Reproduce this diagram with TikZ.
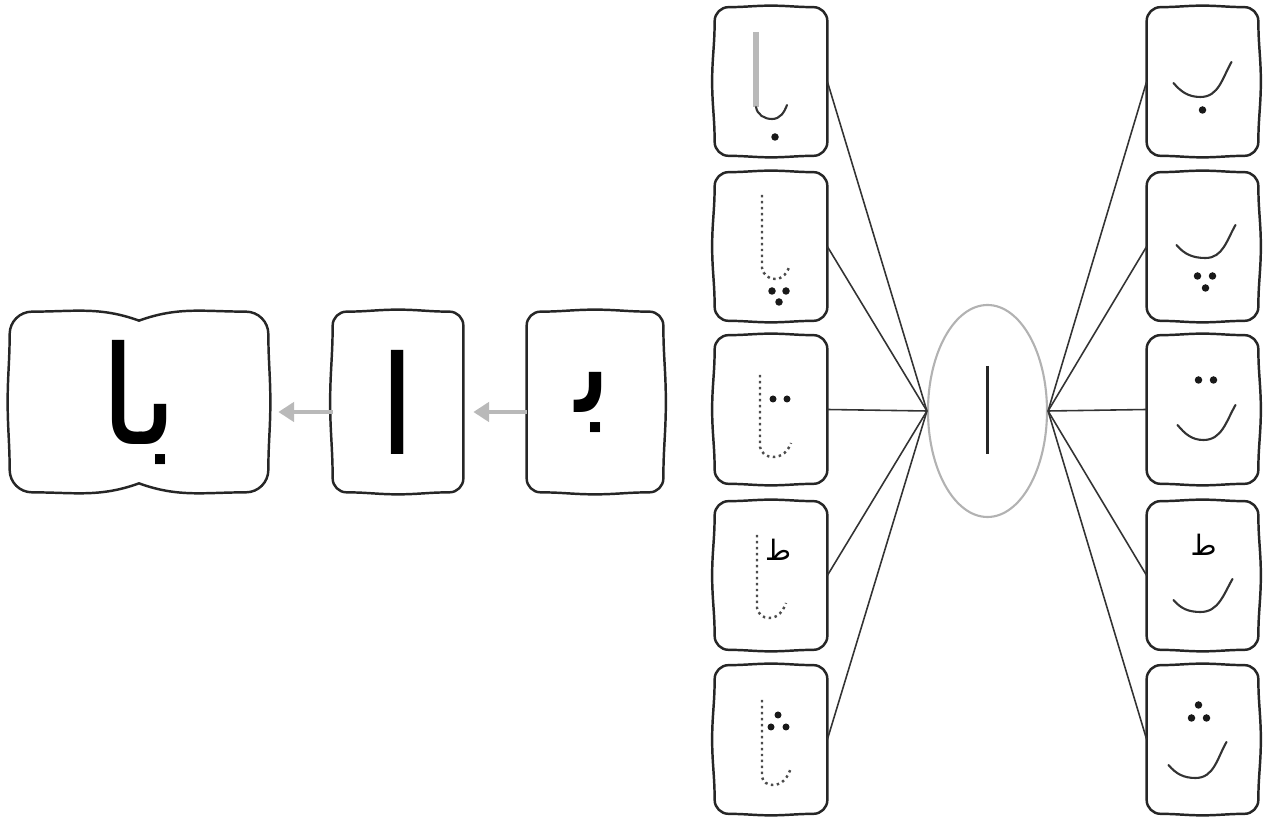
\documentclass[tikz,border=0pt]{standalone}
\usepackage{fontspec}
\newfontfamily\arabicfont[Script=Arabic]{DejaVu Sans}
\TeXXeTstate=1
\usepackage{tikz}
\usetikzlibrary{calc,shapes.geometric,arrows.meta}

\newcommand{\rr}{0.28}
% wavy frame round a node: node, top, right, bottom, left shift of the side middles
\newcommand{\wavyframe}[5]{%
  \draw[frame] ($(#1.north west)+(0,-\rr)$) to[out=90,in=180] ($(#1.north west)+(\rr,0)$)
    to[out=0,in=180] ($(#1.north)+(0,#2)$) to[out=0,in=180] ($(#1.north east)+(-\rr,0)$)
    to[out=0,in=90] ($(#1.north east)+(0,-\rr)$)
    to[out=-90,in=90] ($(#1.east)+(#3,0)$) to[out=-90,in=90] ($(#1.south east)+(0,\rr)$)
    to[out=-90,in=0] ($(#1.south east)+(-\rr,0)$)
    to[out=180,in=0] ($(#1.south)+(0,#4)$) to[out=180,in=0] ($(#1.south west)+(\rr,0)$)
    to[out=180,in=-90] ($(#1.south west)+(0,\rr)$)
    to[out=90,in=-90] ($(#1.west)+(#5,0)$) to[out=90,in=-90] ($(#1.north west)+(0,-\rr)$) -- cycle;}

\begin{document}
\begin{tikzpicture}[
  frame/.style={line width=1.4pt, black!85, line join=round},
  cell/.style={rectangle, inner sep=0pt, minimum width=2.24cm, minimum height=2.96cm},
  big/.style={rectangle, inner sep=0pt, minimum height=3.6cm},
  link/.style={line width=0.9pt, black!80},
  flow/.style={line width=2.4pt, gray!55, shorten >=0.2cm, -{Triangle[length=9pt,width=11pt]}},
  ink/.style={line width=1.2pt, black!80, line cap=round},
  dots/.style={line width=1.4pt, black!70, dash pattern=on 1.4pt off 2pt},
  glyph/.style={font=\arabicfont\fontsize{78}{78}\selectfont},
  mini/.style={font=\arabicfont\fontsize{16}{16}\selectfont, inner sep=0pt}
]
\useasboundingbox (0,0) rectangle (25.56,16.42);

% left group
\node[big, minimum width=5.16cm, glyph] (B1) at (2.78,8.38) {\beginR با\endR};
\node[big, minimum width=2.6cm, glyph] (B2) at (7.96,8.38) {\beginR ا\endR};
\node[big, minimum width=2.72cm, glyph] (B3) at (11.9,8.38) {\beginR ﺑ\endR};

\draw[frame] ($(B1.north west)+(0,-0.45)$) to[out=90,in=180] ($(B1.north west)+(0.45,0)$)
  to[out=0,in=160] ($(B1.north)+(0,-0.18)$) to[out=20,in=180] ($(B1.north east)+(-0.45,0)$)
  to[out=0,in=90] ($(B1.north east)+(0,-0.45)$)
  to[out=-90,in=90] ($(B1.east)+(0.04,0)$) to[out=-90,in=90] ($(B1.south east)+(0,0.45)$)
  to[out=-90,in=0] ($(B1.south east)+(-0.45,0)$)
  to[out=180,in=-20] ($(B1.south)+(0,0.18)$) to[out=200,in=0] ($(B1.south west)+(0.45,0)$)
  to[out=180,in=-90] ($(B1.south west)+(0,0.45)$)
  to[out=90,in=-90] ($(B1.west)+(-0.04,0)$) to[out=90,in=-90] ($(B1.north west)+(0,-0.45)$) -- cycle;
\wavyframe{B2}{0.04}{0}{-0.04}{-0.05}
\wavyframe{B3}{0.04}{0.05}{-0.04}{0}

\draw[flow] ([yshift=-0.2cm]B2.west) -- ([yshift=-0.2cm]B1.east);
\draw[flow] ([yshift=-0.2cm]B3.west) -- ([yshift=-0.2cm]B2.east);

% centre
\node[ellipse, draw=gray!60, line width=1.2pt, minimum width=2.38cm, minimum height=4.24cm] (C) at (19.75,8.2) {};
\draw[line width=1.6pt, black!85] ([yshift=0.9cm]C.center) -- ([yshift=-0.86cm]C.center);

\foreach \i/\y in {1/14.79,2/11.49,3/8.23,4/4.91,5/1.63}{
  \node[cell] (L\i) at (15.42,\y) {};
  \node[cell, minimum width=2.22cm] (R\i) at (24.05,\y) {};
}
\foreach \i in {1,...,5}{
  \wavyframe{L\i}{0.03}{0}{-0.03}{-0.05}
  \wavyframe{R\i}{0.03}{0.05}{-0.03}{0}
  \draw[link] (L\i.east) -- (C.west);
  \draw[link] (C.east) -- (R\i.west);
}

% left column
\begin{scope}[shift={(L1)}]
  \draw[line width=3.2pt, gray!55] (-0.3,0.99) -- (-0.3,-0.51);
  \draw[ink] (-0.3,-0.51) to[out=-80,in=180] (0.02,-0.75) to[out=0,in=-110] (0.32,-0.47);
  \fill[black!90] (0.08,-1.11) circle (0.075);
\end{scope}
\begin{scope}[shift={(L2)}]
  \draw[dots] (-0.18,1.03) -- (-0.18,-0.43) to[out=-80,in=180] (0.08,-0.65) to[out=0,in=-110] (0.38,-0.37);
  \fill[black!90] (0.02,-0.89) circle (0.075) (0.3,-0.89) circle (0.075) (0.16,-1.11) circle (0.075);
\end{scope}
\begin{scope}[shift={(L3)}]
  \draw[dots] (-0.22,0.69) -- (-0.22,-0.75) to[out=-80,in=180] (0.04,-0.95) to[out=0,in=-110] (0.4,-0.67);
  \fill[black!90] (0.04,0.21) circle (0.07) (0.32,0.21) circle (0.07);
\end{scope}
\begin{scope}[shift={(L4)}]
  \draw[dots] (-0.28,0.81) -- (-0.28,-0.65) to[out=-80,in=180] (-0.04,-0.85) to[out=0,in=-110] (0.3,-0.55);
  \node[mini] (t1) at (0.14,0.51) {\beginR ط\endR};
\end{scope}
\begin{scope}[shift={(L5)}]
  \draw[dots] (-0.18,0.79) -- (-0.18,-0.75) to[out=-80,in=180] (0.04,-0.91) to[out=0,in=-110] (0.4,-0.57);
  \fill[black!90] (0.14,0.49) circle (0.07) (0,0.25) circle (0.07) (0.3,0.25) circle (0.07);
\end{scope}

% right column
\begin{scope}[shift={(R1)}]
  \draw[ink] (-0.58,-0.03) to[out=-50,in=180] (-0.04,-0.31) to[out=0,in=-120] (0.58,0.39);
  \fill[black!90] (0,-0.57) circle (0.075);
\end{scope}
\begin{scope}[shift={(R2)}]
  \draw[ink] (-0.52,0.03) to[out=-50,in=180] (0.06,-0.23) to[out=0,in=-120] (0.66,0.43);
  \fill[black!90] (-0.1,-0.59) circle (0.075) (0.2,-0.59) circle (0.075) (0.06,-0.83) circle (0.075);
\end{scope}
\begin{scope}[shift={(R3)}]
  \fill[black!90] (-0.08,0.59) circle (0.075) (0.22,0.59) circle (0.075);
  \draw[ink] (-0.5,-0.31) to[out=-50,in=180] (0.02,-0.61) to[out=0,in=-120] (0.66,0.09);
\end{scope}
\begin{scope}[shift={(R4)}]
  \node[mini] (t2) at (0.02,0.61) {\beginR ط\endR};
  \draw[ink] (-0.58,-0.49) to[out=-50,in=180] (-0.04,-0.73) to[out=0,in=-120] (0.6,-0.07);
\end{scope}
\begin{scope}[shift={(R5)}]
  \fill[black!90] (-0.08,0.69) circle (0.075) (-0.22,0.43) circle (0.075) (0.08,0.43) circle (0.075);
  \draw[ink] (-0.68,-0.51) to[out=-50,in=180] (-0.14,-0.77) to[out=0,in=-120] (0.48,-0.05);
\end{scope}
\end{tikzpicture}
\end{document}
